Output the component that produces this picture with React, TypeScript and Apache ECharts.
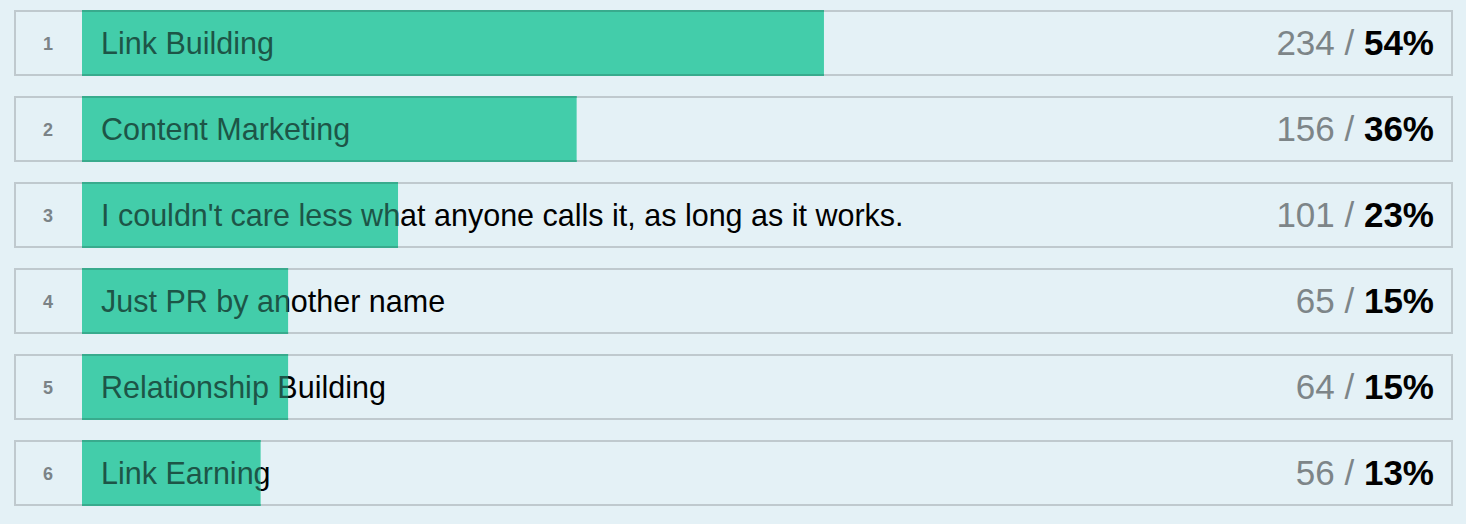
import React, { useEffect, useRef } from 'react';
import * as echarts from 'echarts';

const answers = [
  'Link Building',
  'Content Marketing',
  "I couldn't care less what anyone calls it, as long as it works.",
  'Just PR by another name',
  'Relationship Building',
  'Link Earning',
];
const votes = [234, 156, 101, 65, 64, 56];
const percents = [54, 36, 23, 15, 15, 13];

const W = 1466;
const H = 524;
const FONT = '"Liberation Sans", Arial, Helvetica, sans-serif';

const App: React.FC = () => {
  const chartRef = useRef<HTMLDivElement>(null);

  useEffect(() => {
    document.body.style.margin = '0';
    if (!chartRef.current) return;
    const chart = echarts.init(chartRef.current, undefined, { renderer: 'svg' });

    const options: echarts.EChartsOption = {
      animation: false,
      backgroundColor: '#e4f1f6',
      grid: { left: 82, right: 10, top: 0, bottom: 8 },
      xAxis: { type: 'value', min: 0, max: 100, show: false },
      yAxis: {
        type: 'category',
        inverse: true,
        data: answers,
        show: false,
      },
      series: [
        {
          type: 'custom',
          data: percents.map((p, i) => [p, i]),
          renderItem: (params: any, api: any) => {
            const i = api.value(1);
            const pct = api.value(0);
            const start = api.coord([0, i]);
            const end = api.coord([pct, i]);
            const yc = start[1];
            const top = yc - 32;
            const barEnd = end[0];
            const barW = barEnd - start[0];
            const labelStyle = (fill: string) => ({
              text: answers[i],
              fill,
              font: `30.5px ${FONT}`,
              align: 'left',
              verticalAlign: 'middle',
            });
            return {
              type: 'group',
              children: [
                {
                  type: 'rect',
                  shape: { x: 15, y: top, width: 1437, height: 64 },
                  style: { fill: '#e4f1f6', stroke: '#bfc9ce', lineWidth: 2 },
                },
                {
                  type: 'text',
                  x: 101,
                  y: yc,
                  style: labelStyle('#000000'),
                },
                {
                  type: 'rect',
                  shape: { x: start[0], y: top - 1, width: barW, height: 66 },
                  style: { fill: '#43cdaa' },
                },
                {
                  type: 'rect',
                  shape: { x: start[0], y: top - 1, width: barW, height: 2 },
                  style: { fill: '#38ab8d' },
                },
                {
                  type: 'rect',
                  shape: { x: start[0], y: top + 63, width: barW, height: 2 },
                  style: { fill: '#38ab8d' },
                },
                {
                  // dark copy of the label, visible only over the bar
                  type: 'group',
                  clipPath: {
                    type: 'rect',
                    shape: { x: start[0], y: top, width: barW, height: 64 },
                  },
                  children: [
                    {
                      type: 'text',
                      x: 101,
                      y: yc,
                      style: labelStyle('#1d5547'),
                    },
                  ],
                },
                {
                  type: 'text',
                  x: 48,
                  y: yc + 1,
                  style: {
                    text: String(i + 1),
                    fill: '#7b8387',
                    font: `bold 18px ${FONT}`,
                    align: 'center',
                    verticalAlign: 'middle',
                  },
                },
                {
                  type: 'text',
                  x: 1434,
                  y: yc - 1,
                  style: {
                    text: `{a|${votes[i]} / }{b|${percents[i]}%}`,
                    align: 'right',
                    verticalAlign: 'middle',
                    rich: {
                      a: { fontSize: 35, fontFamily: FONT, fill: '#7d8588' },
                      b: { fontSize: 35, fontFamily: FONT, fontWeight: 'bold', fill: '#000000' },
                    },
                  } as any,
                },
              ],
            };
          },
        },
      ],
    };

    chart.setOption(options);
    return () => {
      chart.dispose();
    };
  }, []);

  return <div ref={chartRef} style={{ width: W, height: H }} />;
};

export default App;
